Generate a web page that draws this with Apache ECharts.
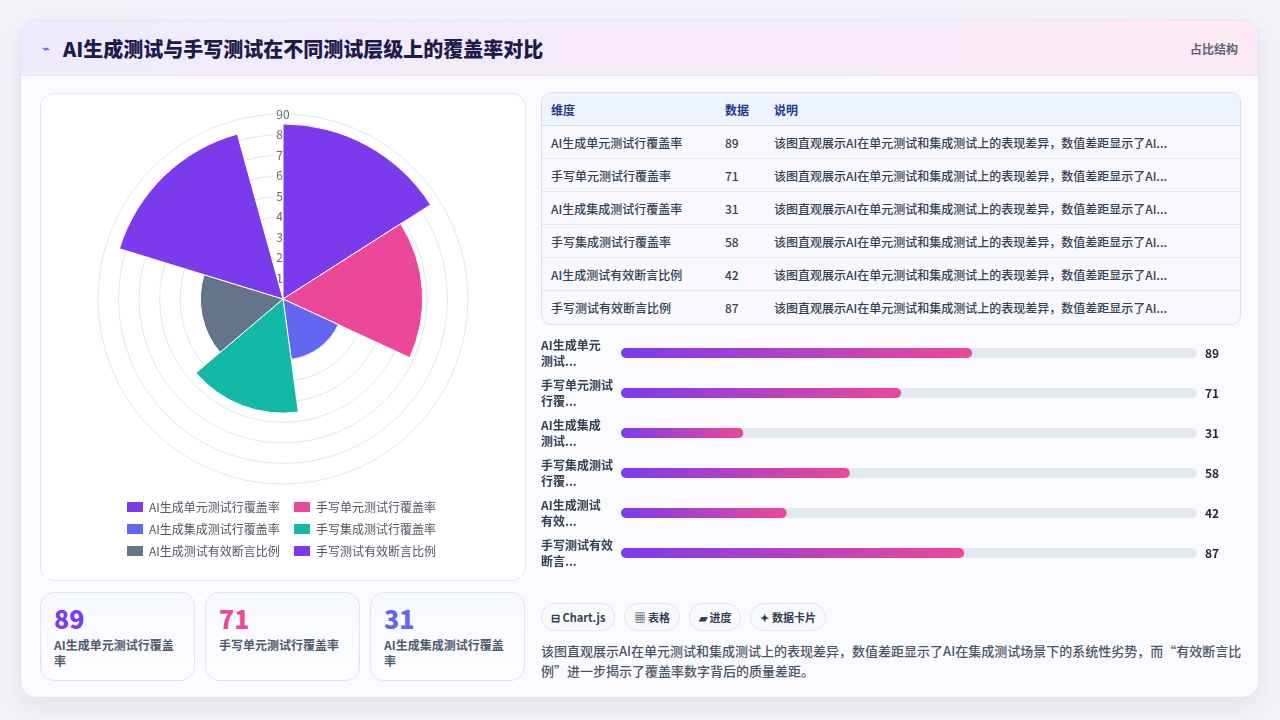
<!DOCTYPE html>
<html lang="zh-CN">
<head>
<meta charset="UTF-8">
<title>AI生成测试与手写测试覆盖率对比</title>
<script src="https://cdn.jsdelivr.net/npm/echarts@6/dist/echarts.min.js"></script>
<style>
    * { box-sizing: border-box; margin: 0; padding: 0; }
    body {
        width: 1280px; height: 720px; overflow: hidden;
        background: #f3f4f8;
        font-family: "Noto Sans CJK SC", "Noto Sans", sans-serif;
    }
    .card {
        position: absolute; left: 20px; top: 20px; width: 1239px; height: 678px;
        border-radius: 16px; border: 1px solid #e4e2f4;
        background: #fbfbff;
        box-shadow: 0 10px 30px rgba(30, 27, 75, 0.08);
        overflow: hidden;
    }
    .head {
        height: 55px; border-bottom: 1px solid #e6e3f5;
        background: linear-gradient(90deg, #efebfc 0%, #f6eaf8 60%, #fce9f3 100%);
        position: relative;
    }
    .head .icon { position: absolute; left: 21px; top: 17px; font-size: 13px; color: #4f46e5; }
    .head h1 {
        position: absolute; left: 42px; top: 13px;
        font-size: 20px; font-weight: 900; color: #1e1b4b; letter-spacing: 0;
    }
    .head .tag { position: absolute; right: 20px; top: 19px; font-size: 12px; font-weight: 700; color: #5b6478; }
    .chartbox {
        position: absolute; left: 19px; top: 72px; width: 486px; height: 488px;
        background: #fff; border: 1px solid #e3e7f1; border-radius: 14px;
    }
    #polar { width: 100%; height: 100%; }
    .stat {
        position: absolute; top: 571px; width: 155px; height: 89px;
        border: 1px solid #dbe5f4; border-radius: 14px;
        background: linear-gradient(180deg, #f7f9ff 0%, #fdfdff 100%);
        padding: 10px 13px;
    }
    .stat .v { font-size: 25px; font-weight: 900; line-height: 30px; }
    .stat .l { margin-top: 4px; font-size: 12px; font-weight: 700; color: #505a6e; line-height: 16px; }
    table {
        position: absolute; left: 520px; top: 71px; width: 700px;
        border-collapse: separate; border-spacing: 0;
        border: 1px solid #d6ddee; border-radius: 10px; overflow: hidden;
        font-size: 12px; color: #334155;
    }
    th {
        height: 33px; text-align: left; font-weight: 700; color: #1e3a8a;
        background: #eef4ff; border-bottom: 1px solid #d6ddee; padding-left: 9px;
    }
    td {
        height: 33px; padding-left: 9px; font-weight: 500; background: #f8f8fe;
        border-bottom: 1px solid #e3e6ef; white-space: nowrap;
    }
    tr:last-child td { border-bottom: none; }
    #bars { position: absolute; left: 520px; top: 312px; width: 700px; height: 240px; }
    .pills { position: absolute; left: 520px; top: 582px; display: flex; gap: 9px; }
    .pill {
        height: 28px; line-height: 26px; padding: 0 9px; border-radius: 14px;
        border: 1px solid #e1e6ef; background: #f8fafc;
        font-size: 11px; font-weight: 700; color: #334155;
    }
    .note {
        position: absolute; left: 520px; top: 620px; width: 705px;
        font-size: 13px; line-height: 20px; color: #4b5568; font-weight: 500;
    }
</style>
</head>
<body>
<div class="card">
    <div class="head">
        <span class="icon">⌁</span>
        <h1>AI生成测试与手写测试在不同测试层级上的覆盖率对比</h1>
        <span class="tag">占比结构</span>
    </div>
    <div class="chartbox"><div id="polar"></div></div>
    <div class="stat" style="left:19px"><div class="v" style="color:#7c3aed">89</div><div class="l">AI生成单元测试行覆盖率</div></div>
    <div class="stat" style="left:184px"><div class="v" style="color:#ec4899">71</div><div class="l">手写单元测试行覆盖率</div></div>
    <div class="stat" style="left:349px"><div class="v" style="color:#6366f1">31</div><div class="l">AI生成集成测试行覆盖率</div></div>

    <table id="tbl">
        <thead><tr><th style="width:174px">维度</th><th style="width:49px">数据</th><th>说明</th></tr></thead>
        <tbody></tbody>
    </table>
    <div id="bars"></div>
    <div class="pills">
        <span class="pill">⊟ Chart.js</span>
        <span class="pill">▦ 表格</span>
        <span class="pill">▰ 进度</span>
        <span class="pill">✦ 数据卡片</span>
    </div>
    <div class="note">该图直观展示AI在单元测试和集成测试上的表现差异，数值差距显示了AI在集成测试场景下的系统性劣势，而“有效断言比例”进一步揭示了覆盖率数字背后的质量差距。</div>
</div>

<script>
    // 数据
    var categories = ['AI生成单元测试行覆盖率', '手写单元测试行覆盖率', 'AI生成集成测试行覆盖率',
        '手写集成测试行覆盖率', 'AI生成测试有效断言比例', '手写测试有效断言比例'];
    var values = [89, 71, 31, 58, 42, 87];
    var colors = ['#7c3aed', '#ec4899', '#6366f1', '#14b8a6', '#64748b', '#7c3aed'];
    var barLabels = ['AI生成单元\n测试...', '手写单元测试\n行覆...', 'AI生成集成\n测试...',
        '手写集成测试\n行覆...', 'AI生成测试\n有效...', '手写测试有效\n断言...'];
    var radiusTicks = [0, 90, 10];   // min, max, interval
    var trackMax = 146;
    var noteShort = '该图直观展示AI在单元测试和集成测试上的表现差异，数值差距显示了AI...';

    // 原图截于动画接近结束时：扇区角度和半径都只到约 95.7%
    var sweep = 0.957;

    // 表格
    var tbody = document.querySelector('#tbl tbody');
    categories.forEach(function (c, i) {
        var tr = document.createElement('tr');
        tr.innerHTML = '<td>' + c + '</td><td>' + values[i] + '</td><td>' + noteShort + '</td>';
        tbody.appendChild(tr);
    });

    // 极坐标面积图
    var polarChart = echarts.init(document.getElementById('polar'));
    var polarSeries = categories.map(function (name, i) {
        var d = values.map(function (v, j) { return j === i ? v : '-'; });
        return {
            name: name, type: 'bar', coordinateSystem: 'polar', polarIndex: 1,
            data: d, barGap: '-100%', barCategoryGap: '0%',
            itemStyle: { color: colors[i], borderColor: '#fff', borderWidth: 1 },
            z: 3
        };
    });
    var R = 185;
    polarChart.setOption({
        animation: false,
        textStyle: { fontFamily: '"Noto Sans CJK SC", sans-serif' },
        polar: [
            { center: [242, 205], radius: R },
            { center: [242, 205], radius: R * sweep }
        ],
        angleAxis: [{
            polarIndex: 0, type: 'value', min: 0, max: 360, startAngle: 90,
            axisLine: { show: false }, axisTick: { show: false },
            axisLabel: { show: false }, splitLine: { show: false }, z: 1
        }, {
            polarIndex: 1, type: 'category', data: categories,
            startAngle: 90, endAngle: 90 - 360 * sweep, clockwise: true,
            axisLine: { show: false }, axisTick: { show: false },
            axisLabel: { show: false }, splitLine: { show: false }, z: 1
        }],
        radiusAxis: [{
            polarIndex: 0, type: 'value',
            min: radiusTicks[0], max: radiusTicks[1], interval: radiusTicks[2],
            axisLine: { show: false }, axisTick: { show: false },
            splitLine: { show: true, lineStyle: { color: '#e6e6e6', width: 1 } },
            axisLabel: {
                showMinLabel: false, color: '#666', fontSize: 12, margin: 0,
                align: 'center', verticalAlign: 'middle',
                backgroundColor: 'rgba(255,255,255,0.75)', padding: [1, 2]
            },
            z: 1
        }, {
            polarIndex: 1, type: 'value', min: radiusTicks[0], max: radiusTicks[1],
            axisLine: { show: false }, axisTick: { show: false },
            axisLabel: { show: false }, splitLine: { show: false }
        }],
        legend: {
            data: categories, left: 79, top: 401, width: 340,
            itemWidth: 18, itemHeight: 12, itemGap: 8,
            icon: 'rect',
            textStyle: { color: '#4f5563', fontSize: 12, width: 135, lineHeight: 14 }
        },
        series: polarSeries
    });

    // 进度条
    var barChart = echarts.init(document.getElementById('bars'));
    barChart.setOption({
        animation: false,
        textStyle: { fontFamily: '"Noto Sans CJK SC", sans-serif' },
        grid: { left: 80, right: 44, top: 0, bottom: 0, outerBoundsMode: 'none' },
        xAxis: { type: 'value', min: 0, max: trackMax, show: false },
        yAxis: [{
            type: 'category', data: barLabels, inverse: true,
            axisLine: { show: false }, axisTick: { show: false },
            axisLabel: { align: 'left', margin: 80, color: '#334155', fontSize: 12, fontWeight: 700, lineHeight: 16 }
        }, {
            type: 'category', data: values.map(String), inverse: true, position: 'right',
            axisLine: { show: false }, axisTick: { show: false },
            axisLabel: { align: 'left', margin: 8, color: '#1e293b', fontSize: 12, fontWeight: 700 }
        }],
        series: [{
            type: 'bar', data: values, barWidth: 10,
            showBackground: true,
            backgroundStyle: { color: '#e2e8f0', borderRadius: 5 },
            itemStyle: {
                borderRadius: 5,
                color: new echarts.graphic.LinearGradient(0, 0, 1, 0, [
                    { offset: 0, color: '#7c3aed' }, { offset: 1, color: '#ec4899' }
                ])
            }
        }]
    });
</script>
</body>
</html>
